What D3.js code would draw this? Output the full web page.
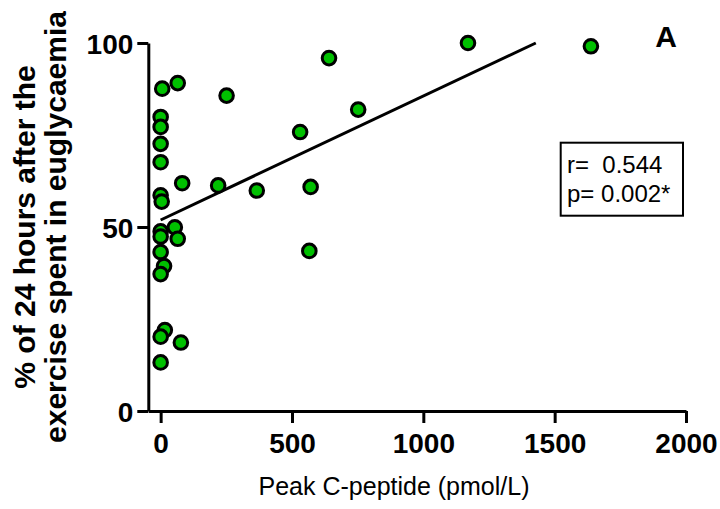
<!DOCTYPE html>
<html>
<head>
<meta charset="utf-8">
<script src="https://cdn.jsdelivr.net/npm/d3@7"></script>
<style>
  html, body { margin: 0; padding: 0; background: #fff; }
  svg { display: block; font-family: "Liberation Sans", Arial, sans-serif; }
</style>
</head>
<body>
<svg id="chart" width="720" height="509"></svg>
<script>
// ---- Data ----
const peakCPeptide = [6, 65, 251, 0, 0, 0, 0, 82, 219, 366, 0, 4, 0, 0, 54, 65, 0, 13, 0, 16, 0, 77, 0, 641, 752, 531, 571, 566, 1170, 1638];
const pctEuglycaemia = [87.6, 89.1, 85.7, 79.9, 77.2, 72.6, 67.6, 61.9, 61.3, 59.9, 58.6, 56.9, 48.8, 47.4, 49.9, 46.8, 43.2, 39.4, 37.2, 22.0, 20.2, 18.6, 13.2, 95.9, 81.9, 75.8, 60.9, 43.5, 100, 99.1];
const fitIntercept = 51.9;
const fitSlope = 0.03368;
const xTicks = [0, 500, 1000, 1500, 2000];
const yTicks = [0, 50, 100];
const statsLines = ["r=  0.544", "p= 0.002*"];
const panelLabel = "A";
const xTitle = "Peak C-peptide (pmol/L)";
const yTitleLines = ["% of 24 hours after the", "exercise spent in euglycaemia"];

// ---- Drawing ----
const svg = d3.select("#chart");
const x = d3.scaleLinear().domain([-47, 2000]).range([148.3, 686]);
const y = d3.scaleLinear().domain([0, 100]).range([411, 43]);

const xAxis = d3.axisBottom(x).tickValues(xTicks).tickSize(12).tickSizeOuter(0).tickPadding(10).tickFormat(d3.format("d"));
const yAxis = d3.axisLeft(y).tickValues(yTicks).tickSize(11).tickSizeOuter(0).tickPadding(4).tickFormat(d3.format("d"));

const gx = svg.append("g").attr("transform", `translate(0,${y(0)})`).call(xAxis);
const gy = svg.append("g").attr("transform", `translate(${x.range()[0]},0)`).call(yAxis);

[gx, gy].forEach(g => {
  g.select(".domain").attr("stroke", "#000").attr("stroke-width", 3);
  g.selectAll(".tick line").attr("stroke", "#000").attr("stroke-width", 3);
  g.selectAll(".tick text").attr("fill", "#000").attr("font-weight", "bold").attr("font-size", 28)
    .attr("font-family", "'Liberation Sans', Arial, sans-serif");
});
gx.selectAll(".tick text").attr("dy", "0.71em");
gy.selectAll(".tick text").attr("dy", "0.36em");

// regression line
const xEnd = (100 - fitIntercept) / fitSlope;
svg.append("line")
  .attr("x1", x(0)).attr("y1", y(fitIntercept))
  .attr("x2", x(xEnd)).attr("y2", y(fitIntercept + fitSlope * xEnd))
  .attr("stroke", "#000").attr("stroke-width", 3);

// points
svg.append("g").selectAll("circle")
  .data(peakCPeptide.map((v, i) => [v, pctEuglycaemia[i]]))
  .join("circle")
  .attr("cx", d => x(d[0])).attr("cy", d => y(d[1]))
  .attr("r", 6.8)
  .attr("fill", "#00c000").attr("stroke", "#000").attr("stroke-width", 3);

// stats box
svg.append("rect").attr("x", 560.7).attr("y", 142.7).attr("width", 122.3).attr("height", 73)
  .attr("fill", "none").attr("stroke", "#000").attr("stroke-width", 2);
svg.append("g").selectAll("text").data(statsLines).join("text")
  .attr("x", 567).attr("y", (d, i) => 173.3 + i * 28.4)
  .attr("font-size", 24).attr("fill", "#000")
  .style("white-space", "pre").attr("xml:space", "preserve")
  .text(d => d);

// panel label
svg.append("text").attr("x", 666).attr("y", 46.7).attr("text-anchor", "middle")
  .attr("font-size", 30).attr("font-weight", "bold").text(panelLabel);

// x title
svg.append("text").attr("x", 394).attr("y", 495).attr("text-anchor", "middle")
  .attr("font-size", 25).text(xTitle);

// y title
yTitleLines.forEach((t, i) => {
  svg.append("text")
    .attr("transform", `translate(${35 + i * 31},227) rotate(-90)`)
    .attr("text-anchor", "middle").attr("font-size", 30).attr("font-weight", "bold")
    .text(t);
});
</script>
</body>
</html>
